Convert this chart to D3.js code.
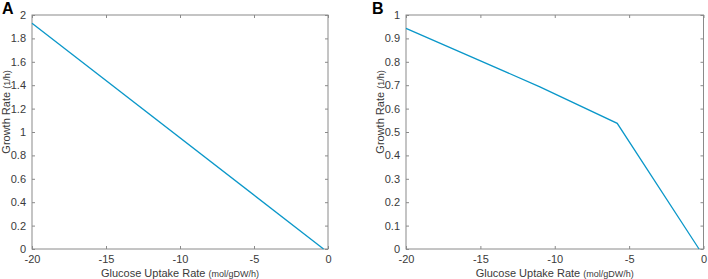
<!DOCTYPE html>
<html>
<head>
<meta charset="utf-8">
<script src="https://cdn.jsdelivr.net/npm/d3@7"></script>
<style>
  body { margin: 0; background: #fff; }
  svg { display: block; font-family: "Liberation Sans", Arial, sans-serif; }
</style>
</head>
<body>
<svg id="chart"></svg>
<script>
// panel A: growth rate vs glucose uptake
const uptakeA = [-20, -0.3];
const growthA = [1.93, 0];
// panel B
const uptakeB = [-20, -11, -5.8, -0.3];
const growthB = [0.943, 0.693, 0.537, 0];

const xTicks = [-20, -15, -10, -5, 0];
const xTickLabels = ["-20", "-15", "-10", "-5", "0"];
const yTicksA = [0, 0.2, 0.4, 0.6, 0.8, 1, 1.2, 1.4, 1.6, 1.8, 2];
const yTicksB = [0, 0.1, 0.2, 0.3, 0.4, 0.5, 0.6, 0.7, 0.8, 0.9, 1];

const panels = [
  { label: "A", xs: uptakeA, ys: growthA, yTicks: yTicksA, yMax: 2, left: 32, right: 328 },
  { label: "B", xs: uptakeB, ys: growthB, yTicks: yTicksB, yMax: 1, left: 406, right: 703.5 },
];

const plotTop = 15;
const plotBottom = 249;
const lineColor = "#0a97c9";
const axisColor = "#8a8a8a";
const textColor = "#3a3a3a";

const svg = d3.select("#chart").attr("width", 708).attr("height", 279);

panels.forEach((p) => {
  const x = d3.scaleLinear().domain([-20, 0]).range([p.left, p.right]);
  const y = d3.scaleLinear().domain([0, p.yMax]).range([plotBottom, plotTop]);

  const g = svg.append("g");

  // frame
  g.append("rect")
    .attr("x", p.left)
    .attr("y", plotTop)
    .attr("width", p.right - p.left)
    .attr("height", plotBottom - plotTop)
    .attr("fill", "none")
    .attr("stroke", axisColor)
    .attr("stroke-width", 1);

  const xAxis = d3.axisBottom(x).tickValues(xTicks).tickSize(-3).tickPadding(6)
    .tickFormat((d, i) => xTickLabels[i]);
  const xTop = d3.axisTop(x).tickValues(xTicks).tickSize(-3).tickFormat("");
  const yAxis = d3.axisLeft(y).tickValues(p.yTicks).tickSize(-3).tickPadding(6)
    .tickFormat((d) => d3.format("~g")(d));
  const yRight = d3.axisRight(y).tickValues(p.yTicks).tickSize(-3).tickFormat("");

  const styleAxis = (sel) => {
    sel.select(".domain").remove();
    sel.selectAll(".tick line").attr("stroke", axisColor);
    sel.selectAll(".tick text")
      .attr("fill", textColor)
      .style("font-size", "11px")
      .style("font-family", "Liberation Sans, Arial, sans-serif");
  };

  g.append("g").attr("transform", `translate(0,${plotBottom})`).call(xAxis).call(styleAxis);
  g.append("g").attr("transform", `translate(0,${plotTop})`).call(xTop).call(styleAxis);
  g.append("g").attr("transform", `translate(${p.left},0)`).call(yAxis).call(styleAxis);
  g.append("g").attr("transform", `translate(${p.right},0)`).call(yRight).call(styleAxis);

  const pts = p.xs.map((v, i) => [v, p.ys[i]]);
  g.append("path")
    .datum(pts)
    .attr("fill", "none")
    .attr("stroke", lineColor)
    .attr("stroke-width", 1.3)
    .attr("d", d3.line().x((d) => x(d[0])).y((d) => y(d[1])));

  // axis labels
  const xl = g.append("text")
    .attr("x", (p.left + p.right) / 2)
    .attr("y", 277)
    .attr("text-anchor", "middle")
    .attr("fill", textColor)
    .style("font-size", "11px");
  xl.append("tspan").text("Glucose Uptake Rate ");
  xl.append("tspan").style("font-size", "9px").text("(mol/gDW/h)");

  const yl = g.append("text")
    .attr("transform", `translate(${p.left - 22},${(plotTop + plotBottom) / 2 - 20}) rotate(-90)`)
    .attr("text-anchor", "middle")
    .attr("fill", textColor)
    .style("font-size", "11px");
  yl.append("tspan").text("Growth Rate ");
  yl.append("tspan").style("font-size", "9px").text("(1/h)");

  g.append("text")
    .attr("x", p.label === "A" ? 2 : 372)
    .attr("y", 14)
    .attr("fill", "#000")
    .style("font-size", "16px")
    .style("font-weight", "bold")
    .text(p.label);
});
</script>
</body>
</html>
